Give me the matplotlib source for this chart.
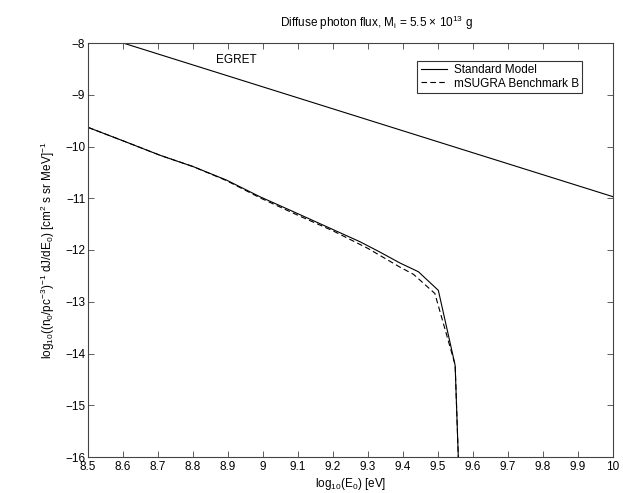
import numpy as np
import matplotlib
matplotlib.use('Agg')
import matplotlib.pyplot as plt

plt.rcParams['font.family'] = ['Liberation Sans', 'DejaVu Sans']
plt.rcParams['mathtext.fontset'] = 'custom'
plt.rcParams['mathtext.rm'] = 'Liberation Sans'
plt.rcParams['mathtext.it'] = 'Liberation Sans:italic'
plt.rcParams['mathtext.bf'] = 'Liberation Sans:bold'

# データ
x_std = [8.50, 8.60, 8.706, 8.801, 8.896, 8.991, 9.087, 9.182, 9.277, 9.334,
         9.391, 9.444, 9.501, 9.549, 9.558]
y_std = [-9.63, -9.89, -10.17, -10.39, -10.65, -10.97, -11.26, -11.55, -11.84, -12.04,
         -12.25, -12.42, -12.78, -14.23, -16.0]

x_msugra = [8.50, 8.60, 8.706, 8.801, 8.896, 8.991, 9.10, 9.20, 9.30, 9.391,
            9.43, 9.491, 9.549, 9.558]
y_msugra = [-9.63, -9.89, -10.17, -10.39, -10.66, -10.99, -11.33, -11.63, -11.97, -12.33,
            -12.47, -12.84, -14.22, -16.0]

x_egret = [8.60, 10.0]
y_egret = [-8.0, -10.97]

xticks = np.round(np.arange(8.5, 10.01, 0.1), 1)
xticklabels = ['8.5', '8.6', '8.7', '8.8', '8.9', '9', '9.1', '9.2', '9.3', '9.4',
               '9.5', '9.6', '9.7', '9.8', '9.9', '10']
yticks = list(range(-16, -7))

fig = plt.figure(figsize=(6.23, 4.93), dpi=100)
ax = fig.add_axes([88 / 623, 1 - 457 / 493, 525 / 623, 414 / 493])

ax.plot(x_std, y_std, '-', color='k', lw=0.8, label='Standard Model')
ax.plot(x_msugra, y_msugra, '--', color='k', lw=0.8, dashes=(5, 3), label='mSUGRA Benchmark B')
ax.plot(x_egret, y_egret, '-', color='k', lw=0.8)
ax.text(8.865, -8.33, 'EGRET', fontsize=8.5, va='center', ha='left')

ax.set_xlim(8.5, 10)
ax.set_ylim(-16, -8)
ax.set_xticks(xticks)
ax.set_xticklabels(xticklabels)
ax.set_yticks(yticks)
ax.tick_params(direction='in', top=True, right=True, length=4, width=0.6,
               labelsize=8.5, color='#444444', pad=2)
ax.tick_params(axis='x', pad=3)
for s in ax.spines.values():
    s.set_linewidth(0.8)
    s.set_color('#444444')

ax.set_xlabel(r'log$_{10}$(E$_0$) [eV]', fontsize=8.5, labelpad=2)
ax.set_ylabel(r'log$_{10}$((n$_0$/pc$^{-3}$)$^{-1}$ dJ/dE$_0$) [cm$^2$ s sr MeV]$^{-1}$',
              fontsize=8.5, labelpad=6)

fig.text(376 / 623, 1 - 23 / 493, r'Diffuse photon flux, M$_{\rm i}$ = 5.5 × 10$^{13}$ g',
         fontsize=8.5, ha='center', va='center')

leg = ax.legend(loc='upper left', bbox_to_anchor=(0.627, 0.957), fontsize=8.5,
                frameon=True, fancybox=False, handlelength=2.2, borderpad=0.3,
                labelspacing=0.1, handletextpad=0.6, borderaxespad=0)
leg.get_frame().set_edgecolor('k')
leg.get_frame().set_linewidth(0.8)

fig.savefig('out.png', dpi=100)
